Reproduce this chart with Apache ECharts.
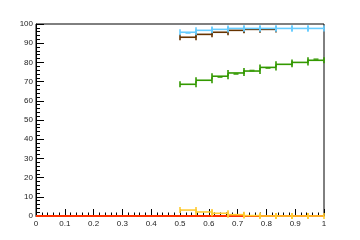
<!DOCTYPE html>
<html>
<head>
<meta charset="utf-8">
<script src="https://cdn.jsdelivr.net/npm/echarts@6/dist/echarts.min.js"></script>
<style>html,body{margin:0;padding:0;background:#fff}#c{width:360px;height:240px}</style>
</head>
<body>
<div id="c"></div>
<script>
// bin edges for histograms (9 bins between 0.5 and 1)
const binEdges = [0.5, 0.5556, 0.6111, 0.6667, 0.7222, 0.7778, 0.8333, 0.8889, 0.9444, 1.0];
const lightBlueValues = [95.7, 96.7, 97.2, 97.7, 97.7, 97.7, 97.7, 97.7, 97.7];
const brownValues = [93.1, 94.6, 95.7, 96.7, 97.2, 97.2];
const greenValues = [68.6, 70.7, 72.8, 74.5, 75.5, 77.4, 79.0, 80.0, 81.1];
const yellowValues = [3.1, 2.1, 1.4, 0.7, 0.2, 0, 0, 0, 0];
const redEdges = [0, 1];
const redValues = [0];
// small markers
const lightBlueMarkers = [95.3, null, null, null, null, null, null, null, null];
const greenMarkers = [null, null, 72.4, 74.0, 75.7, 77.1, null, null, 81.6];
const xTickLabels = ['0','0.1','0.2','0.3','0.4','0.5','0.6','0.7','0.8','0.9','1'];
const yTickLabels = ['0','10','20','30','40','50','60','70','80','90','100'];

function histData(edges, vals) {
  return vals.map((v, i) => [edges[i], edges[i + 1], v]);
}
function markerData(edges, vals) {
  const out = [];
  vals.forEach((v, i) => { if (v !== null) out.push([(edges[i] + edges[i + 1]) / 2, v]); });
  return out;
}
function histSeries(name, edges, vals, color, caps, z, lw) {
  return {
    type: 'custom', name: name, z: z, clip: false,
    data: histData(edges, vals),
    renderItem: function (params, api) {
      const p0 = api.coord([api.value(0), api.value(2)]);
      const p1 = api.coord([api.value(1), api.value(2)]);
      const st = { stroke: color, lineWidth: lw || 1.6 };
      const ch = [{ type: 'line', shape: { x1: p0[0], y1: p0[1], x2: p1[0], y2: p1[1] }, style: st }];
      if (caps) {
        ch.push({ type: 'line', shape: { x1: p0[0], y1: p0[1] - 3, x2: p0[0], y2: p0[1] + 3 }, style: st });
        ch.push({ type: 'line', shape: { x1: p1[0], y1: p1[1] - 3, x2: p1[0], y2: p1[1] + 3 }, style: st });
      }
      return { type: 'group', children: ch };
    }
  };
}
function markerSeries(vals, color) {
  return {
    type: 'scatter', data: markerData(binEdges, vals), symbol: 'rect', symbolSize: [5, 2],
    itemStyle: { color: color }, z: 5, silent: true
  };
}
const chart = echarts.init(document.getElementById('c'), null, { renderer: 'canvas' });
const labelStyle = { fontFamily: 'Liberation Sans, Arial, sans-serif', fontSize: 8, color: '#222' };
chart.setOption({
  animation: false,
  grid: { left: 36, right: 36, top: 24, bottom: 24, show: true, borderColor: '#000', borderWidth: 1, backgroundColor: 'transparent' },
  xAxis: {
    type: 'value', min: 0, max: 1, interval: 0.1,
    axisLine: { show: true, lineStyle: { color: '#000', width: 1 } },
    axisTick: { show: true, inside: true, length: 7, lineStyle: { color: '#000', width: 1 } },
    minorTick: { show: true, splitNumber: 5, length: 3.5, lineStyle: { color: '#000', width: 1 } },
    splitLine: { show: false },
    axisLabel: Object.assign({ margin: 4, formatter: function (v) { return xTickLabels[Math.round(v * 10)]; } }, labelStyle)
  },
  yAxis: {
    type: 'value', min: 0, max: 100, interval: 10,
    axisLine: { show: true, lineStyle: { color: '#000', width: 1 } },
    axisTick: { show: true, inside: true, length: 8, lineStyle: { color: '#000', width: 1 } },
    minorTick: { show: true, splitNumber: 5, length: 4, lineStyle: { color: '#000', width: 1 } },
    splitLine: { show: false },
    axisLabel: Object.assign({ margin: 3, formatter: function (v) { return yTickLabels[Math.round(v / 10)]; } }, labelStyle)
  },
  series: [
    histSeries('lightblue', binEdges, lightBlueValues, '#66ccff', true, 3),
    histSeries('brown', binEdges, brownValues, '#663300', true, 2),
    histSeries('green', binEdges, greenValues, '#339900', true, 3),
    histSeries('red', redEdges, redValues, '#ff3300', false, 10, 2),
    histSeries('yellow', binEdges, yellowValues, '#ffcc33', true, 11),
    markerSeries(lightBlueMarkers, '#66ccff'),
    markerSeries(greenMarkers, '#339900')
  ]
});
</script>
</body>
</html>
